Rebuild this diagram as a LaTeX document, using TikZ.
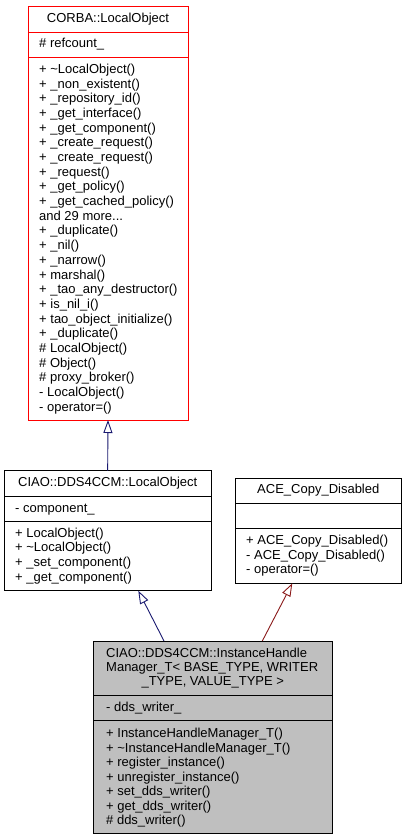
\documentclass[tikz,border=0pt]{standalone}
\usepackage{fontspec}
\setmainfont{Liberation Sans}
\usetikzlibrary{arrows.meta,calc}
\definecolor{navyline}{HTML}{191970}
\definecolor{firebr}{HTML}{8B1A1A}
\definecolor{grayfill}{HTML}{BFBFBF}
\newcommand{\moredots}{.{}.{}.}
\begin{document}
\begin{tikzpicture}[x=1pt,y=-1pt,
  box/.style={draw=black, line width=0.9pt, rectangle, inner sep=0pt, outer sep=0pt, anchor=north west},
  txt/.style={inner sep=0pt, anchor=base west, font=\fontsize{13}{14.6}\selectfont},
  ttl/.style={inner sep=0pt, anchor=base, font=\fontsize{13}{14.6}\selectfont},
  sep/.style={line width=0.9pt},
  pubinh/.style={draw=navyline, line width=0.9pt, -{Triangle[open, width=9pt, length=13pt]}},
  privinh/.style={draw=firebr, line width=0.9pt, -{Triangle[open, width=9pt, length=13pt]}},
]
\useasboundingbox (0,0) rectangle (407,840);
\fill[white] (0,0) rectangle (407,840);

% CORBA::LocalObject
\node[box, draw=red, minimum width=160pt, minimum height=414pt] (corba) at (28,6) {};
\draw[sep, red] (28,32) -- (188,32);
\draw[sep, red] (28,57) -- (188,57);
\node[ttl] (corbat) at (108,22.5) {CORBA::LocalObject};
\node[txt] (corbaa) at (39,47.5) {\# refcount\_};
\foreach \t [count=\i from 0] in {
  {+ \textasciitilde LocalObject()},
  {+ \_non\_existent()},
  {+ \_repository\_id()},
  {+ \_get\_interface()},
  {+ \_get\_component()},
  {+ \_create\_request()},
  {+ \_create\_request()},
  {+ \_request()},
  {+ \_get\_policy()},
  {+ \_get\_cached\_policy()},
  {and 29 more\moredots},
  {+ \_duplicate()},
  {+ \_nil()},
  {+ \_narrow()},
  {+ marshal()},
  {+ \_tao\_any\_destructor()},
  {+ is\_nil\_i()},
  {+ tao\_object\_initialize()},
  {+ \_duplicate()},
  {\# LocalObject()},
  {\# Object()},
  {\# proxy\_broker()},
  {- LocalObject()},
  {- operator=()}}
  \node[txt] (corbam\i) at (39,73.5+\i*14.68) {\t};

% CIAO::DDS4CCM::LocalObject
\node[box, minimum width=206.7pt, minimum height=120pt] (ciao) at (4.3,470.7) {};
\draw[sep] (4.3,496) -- (211,496);
\draw[sep] (4.3,521) -- (211,521);
\node[ttl] (ciaot) at (107.7,486.5) {CIAO::DDS4CCM::LocalObject};
\node[txt] (ciaoa) at (15,512.5) {- component\_};
\foreach \t [count=\i from 0] in {
  {+ LocalObject()},
  {+ \textasciitilde LocalObject()},
  {+ \_set\_component()},
  {+ \_get\_component()}}
  \node[txt] (ciaom\i) at (15,537.2+\i*14.6) {\t};

% ACE_Copy_Disabled
\node[box, minimum width=166.7pt, minimum height=105.3pt] (ace) at (235,478) {};
\draw[sep] (235,503) -- (401.7,503);
\draw[sep] (235,528.3) -- (401.7,528.3);
\node[ttl] (acet) at (318.3,493.8) {ACE\_Copy\_Disabled};
\foreach \t [count=\i from 0] in {
  {+ ACE\_Copy\_Disabled()},
  {- ACE\_Copy\_Disabled()},
  {- operator=()}}
  \node[txt] (acem\i) at (246,544.5+\i*14.6) {\t};

% InstanceHandleManager_T
\node[box, fill=grayfill, minimum width=239pt, minimum height=192.3pt] (main) at (93.3,641) {};
\draw[sep] (93.3,695.7) -- (332.3,695.7);
\draw[sep] (93.3,720.3) -- (332.3,720.3);
\node[txt] (maint1) at (106,657.2) {CIAO::DDS4CCM::InstanceHandle};
\node[txt] (maint2) at (106,671.4) {Manager\_T< BASE\_TYPE, WRITER};
\node[ttl] (maint3) at (212.8,685.6) {\_TYPE, VALUE\_TYPE >};
\node[txt] (maina) at (106,711.8) {- dds\_writer\_};
\foreach \t [count=\i from 0] in {
  {+ InstanceHandleManager\_T()},
  {+ \textasciitilde InstanceHandleManager\_T()},
  {+ register\_instance()},
  {+ unregister\_instance()},
  {+ set\_dds\_writer()},
  {+ get\_dds\_writer()},
  {\# dds\_writer()}}
  \node[txt] (mainm\i) at (106,737.8+\i*14.45) {\t};

% inheritance connectors
\draw[pubinh] (ciao.north) -- (corba.south);
\coordinate (a2s) at ([xshift=70.7pt]main.north west);
\coordinate (a2e) at ([xshift=134pt]ciao.south west);
\draw[pubinh] (a2s) -- (a2e);
\coordinate (a3s) at ([xshift=169pt]main.north west);
\coordinate (a3e) at ([xshift=57.3pt]ace.south west);
\draw[privinh] (a3s) -- (a3e);
\end{tikzpicture}
\end{document}
